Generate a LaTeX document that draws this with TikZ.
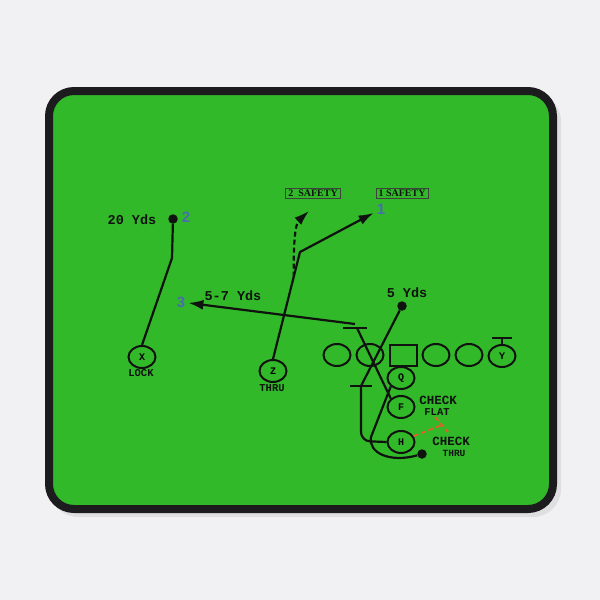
\documentclass[tikz,border=0pt]{standalone}
\usepackage{fontspec}
\setmainfont{Liberation Serif}
\setsansfont{Liberation Sans}
\setmonofont{Liberation Mono}
\usepackage{tikz}
\usetikzlibrary{arrows.meta}
\usetikzlibrary{shapes.geometric}
\usetikzlibrary{calc}

\definecolor{backdrop}{RGB}{241,241,243}
\definecolor{padgreen}{RGB}{50,185,42}
\definecolor{padedge}{RGB}{28,28,30}
\definecolor{ink}{RGB}{15,18,15}
\definecolor{numblue}{RGB}{72,110,172}
\definecolor{checkred}{RGB}{232,92,42}

\tikzset{
  route/.style={draw=ink, line width=2.2pt},
  player/.style={ellipse, draw=ink, line width=2pt, minimum width=27pt,
    minimum height=22pt, inner sep=0pt,
    font=\ttfamily\bfseries\fontsize{10}{10}\selectfont},
  centre/.style={rectangle, draw=ink, line width=2pt, minimum width=27pt,
    minimum height=21pt, inner sep=0pt},
  dot/.style={circle, fill=ink, minimum size=9.5pt, inner sep=0pt},
  yds/.style={text=ink, inner sep=1pt, font=\ttfamily\bfseries\fontsize{13.5}{13.5}\selectfont},
  tag/.style={text=ink, inner sep=0pt, text depth=0pt, font=\ttfamily\bfseries\fontsize{10.5}{10.5}\selectfont},
  check/.style={text=ink, inner sep=0pt, text depth=0pt, font=\ttfamily\bfseries\fontsize{12.5}{12.5}\selectfont},
  num/.style={text=numblue, inner sep=3pt, font=\sffamily\bfseries\fontsize{15}{15}\selectfont},
  safety/.style={draw=ink!80, line width=0.7pt, inner xsep=2.5pt, inner ysep=1.5pt,
    text=ink, font=\rmfamily\bfseries\fontsize{10}{10}\selectfont},
  redcheck/.style={draw=checkred, line width=1.7pt, dash pattern=on 5pt off 3pt}
}

\begin{document}
\begin{tikzpicture}[x=1pt, y=-1pt, >={Latex[length=15pt,width=10pt]}]
  % backdrop and pad
  \fill[backdrop] (0,0) rectangle (600,600);
  \useasboundingbox (0,0) rectangle (600,600);
  \fill[black, opacity=0.07, rounded corners=28pt] (50,93) rectangle (561,517);
  \draw[line width=8pt, draw=padedge, fill=padgreen, rounded corners=25pt]
    (49,91) rectangle (553,509);

  % line of scrimmage
  \foreach \name/\x in {lt/337, lg/370, rg/436, rt/469}
    \node[player] (\name) at (\x,355) {};
  \node[centre] (C) at (403,355) {};
  \node[player] (Y) at (502,356) {Y};
  \foreach \p/\y in {Q/378, F/407, H/442}
    \node[player] (\p) at (401,\y) {\p};

  % receivers
  \node[player] (X) at (142,357) {X};
  \node[tag] (lock) at (141,373) {LOCK};
  \node[player] (Z) at (273,371) {Z};
  \node[tag] (zthru) at (272,388) {THRU};

  % labels
  \node[yds] (twenty) at (132,220) {20 Yds};
  \node[dot] (xdot) at (173,219) {};
  \node[num] (two) at (186,217) {2};
  \node[safety] (safe2) at (313,193) {2\ \ SAFETY};
  \node[safety] (safe1) at (402,193) {1 SAFETY};
  \node[num] (one) at (381,209) {1};
  \node[num] (three) at (181,302) {3};
  \node[yds] (fiveseven) at (233,296) {5-7 Yds};
  \node[yds] (five) at (407,293) {5 Yds};
  \node[dot] (fdot) at (402,306) {};
  \node[dot] (hdot) at (422,454) {};
  \node[check] (chk1) at (438,400) {CHECK};
  \node[tag] (flat) at (437,412) {FLAT};
  \node[check] (chk2) at (451,441) {CHECK};
  \node[tag, font=\ttfamily\bfseries\fontsize{9.5}{9.5}\selectfont] (hthru) at (454,453) {THRU};

  % routes
  \coordinate (xbreak) at (172,258);
  \draw[route] (X.north) -- (xbreak) -- (xdot);

  \coordinate (zbreak) at (300,252);
  \draw[route,->] (Z.north) -- (zbreak) -- (one);
  \coordinate (zsplit) at ($(Z.north)!0.77!(zbreak)$);
  \coordinate (ztwo) at (309,211);
  \draw[route, dash pattern=on 5pt off 3pt, ->] (zsplit)
    .. controls (293,232) and (297,222) .. (ztwo);

  \coordinate (fblock) at (355,328);
  \draw[route] ([xshift=-12pt]fblock) -- ([xshift=12pt]fblock);
  \draw[route,->] ([yshift=4pt]fblock) -- (three);
  \draw[route] (F.north west) -- ([xshift=2pt]fblock);

  \coordinate (hblock) at (361,386);
  \draw[route] ([xshift=-11pt]hblock) -- ([xshift=11pt]hblock);
  \draw[route] (hblock) -- (fdot);
  \draw[route, rounded corners=9pt] (H.west) -- (361,441) -- (hblock);

  \coordinate (qturn) at (371,437);
  \draw[route] (Q.south west) -- (qturn)
    .. controls (368,453) and (390,463) .. (hdot);

  \coordinate (ytee) at (502,337);
  \draw[route, -{Bar[width=20pt]}] (Y.north) -- (ytee);

  % check reads
  \coordinate (hcheck) at (442,425);
  \draw[redcheck] (H.25) -- (hcheck);
  \draw[redcheck] (435,417) -- (448,432);
\end{tikzpicture}
\end{document}
